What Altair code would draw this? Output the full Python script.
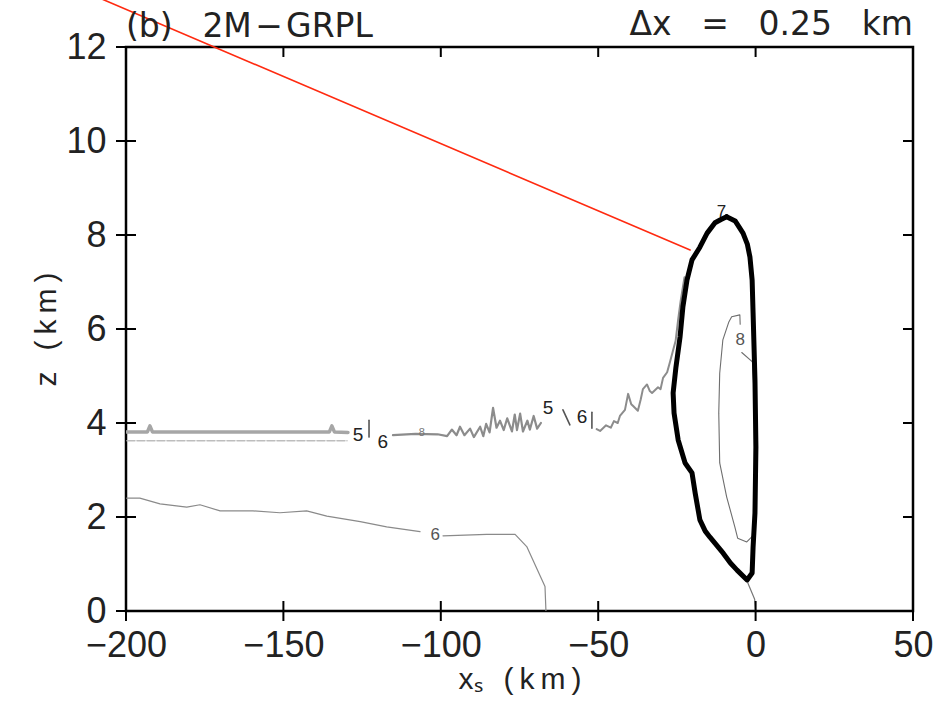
import altair as alt
import pandas as pd

# ---------------- data ----------------
x_ticks = [-200, -150, -100, -50, 0, 50]
y_ticks = [0, 2, 4, 6, 8, 10, 12]

# thick black contour (label 7)
loop7_x = [-9.2, -6.5, -4.0, -2.6, -1.8, -1.1, -0.8, -0.2, 0.1, -0.2, -0.8, -1.1, -2.7, -5.9,
           -8.0, -10.3, -14.5, -16.0, -17.7, -19.2, -20.2, -22.4, -24.6, -25.9, -26.2, -25.3,
           -24.0, -23.1, -21.8, -20.2, -17.7, -15.4, -12.9, -11.0, -9.2]
loop7_y = [8.39, 8.30, 8.04, 7.80, 7.53, 7.04, 6.34, 4.91, 3.49, 2.09, 1.36, 0.81, 0.66, 0.87,
           1.02, 1.23, 1.57, 1.70, 1.94, 2.51, 2.94, 3.15, 3.64, 4.21, 4.64, 5.19,
           5.83, 6.47, 7.04, 7.47, 7.74, 8.04, 8.26, 8.33, 8.39]

# inner thin contour (label 8)
inner8_x = [-4.4, -1.0, -0.4, -0.4, -0.9, -2.8, -5.7, -6.6, -9.2, -11.4, -11.7, -11.4,
            -10.4, -8.5, -7.6, -5.0, -4.9]
inner8_y = [5.50, 5.30, 4.50, 2.20, 1.60, 1.47, 1.55, 1.79, 2.43, 3.15, 4.21, 5.06,
            5.77, 6.15, 6.26, 6.30, 6.10]

# lower contour (label 6), split around its label
low6a_x = [-199.8, -195.6, -189.2, -180.7, -176.5, -170.1, -159.7, -151.1, -142.6, -136.2,
           -125.6, -117.2, -106.6]
low6a_y = [2.40, 2.40, 2.28, 2.21, 2.26, 2.13, 2.13, 2.09, 2.13, 2.02, 1.90, 1.79, 1.69]
low6b_x = [-99.3, -85.4, -76.4, -72.7, -66.9, -66.6]
low6b_y = [1.60, 1.63, 1.63, 1.37, 0.52, 0.0]

# melting-level contours on the left
meltA_x = [-199.7, -193.2, -192.4, -191.6, -135.4, -134.6, -133.8, -129.5]
meltA_y = [3.81, 3.81, 3.94, 3.81, 3.81, 3.94, 3.81, 3.80]
meltB_x = [-199.7, -129.8]
meltB_y = [3.62, 3.62]

# jagged contour, middle part
jag1_x = [-115.2, -108.0, -101.0, -98.0, -96.5, -95.0, -93.9, -92.5, -90.7, -89.5, -87.5,
          -86.5, -85.6, -84.5, -83.4, -82.3, -81.2, -80.0, -78.9, -77.4, -76.5, -75.8, -74.8,
          -73.9, -72.5, -71.7, -70.5, -69.4, -68.2]
jag1_y = [3.74, 3.77, 3.76, 3.72, 3.86, 3.74, 3.92, 3.74, 3.88, 3.70, 3.92,
          3.72, 3.98, 3.80, 4.32, 3.90, 4.05, 3.85, 4.10, 3.82, 4.18, 3.85, 4.20,
          3.82, 4.05, 3.86, 4.15, 3.88, 4.00]

# jagged contour rising to the cell
jag2_x = [-50.5, -49.4, -47.5, -46.0, -45.0, -43.8, -43.1, -41.5, -40.5, -39.5, -38.9, -37.4,
          -36.5, -35.8, -34.5, -33.6, -32.9, -31.0, -30.2, -29.4, -28.1, -27.2, -26.4, -25.4,
          -24.6, -23.8, -22.6]
jag2_y = [3.87, 3.83, 3.95, 3.90, 4.04, 4.00, 4.15, 4.28, 4.62, 4.40, 4.36, 4.26,
          4.50, 4.72, 4.82, 4.68, 4.64, 4.76, 4.72, 4.96, 5.08, 5.30, 5.50, 5.75,
          6.20, 6.60, 7.10]

# short contour pieces near the labels
piece_x = [-122.8, -122.8, -61.2, -59.0, -52.0, -52.0]
piece_y = [4.06, 3.70, 4.28, 3.96, 4.23, 3.89]
piece_seg = [0, 0, 1, 1, 2, 2]

# stem from the cell bottom to the surface
stem_x = [-2.5, -0.3, 0.0]
stem_y = [0.60, 0.25, 0.0]

# red straight line
red_x = [-222.0, -20.8]
red_y = [13.43, 7.68]

# contour labels
lab_x = [-10.8, -4.9, -101.8, -126.3, -118.4, -65.9, -55.1, -106.0]
lab_y = [8.50, 5.77, 1.62, 3.74, 3.60, 4.32, 4.13, 3.79]
lab_t = ["7", "8", "6", "5", "6", "5", "6", "8"]
lab_s = [17, 17, 17, 19, 19, 19, 19, 11]
lab_c = ["#222222", "#555555", "#555555", "#222222", "#222222", "#222222", "#222222", "#777777"]

title_left = "(b)\u2002\u2009\u20092M\u200a\u2212\u200aGRPL"
title_right = "\u0394x\u2002\u2009\u2009=\u2002\u2009\u20090.25\u2002\u2009\u2009km"

# ---------------- chart ----------------
W, H = 787, 564
FONT = "Liberation Sans"
TFONT = "DejaVu Sans"
xs = alt.Scale(domain=[-200, 50], nice=False, zero=False)
ys = alt.Scale(domain=[0, 12], nice=False, zero=False)

xaxis = alt.Axis(values=x_ticks, ticks=False, domain=False, grid=False, labelFlush=False,
                 labelOverlap=False, labelFont=FONT, labelFontSize=36, labelColor="#222",
                 labelPadding=17, titleFont=FONT, titleFontSize=30, titleFontWeight="normal",
                 titleColor="#222", titlePadding=1,
                 title="x\u209b\u2002\u2009(\u2009k\u2009m\u2009)")
yaxis = alt.Axis(values=y_ticks, ticks=False, domain=False, grid=False, labelFlush=False,
                 labelOverlap=False, labelFont=FONT, labelFontSize=36, labelColor="#222",
                 labelPadding=20, titleFont=FONT, titleFontSize=30, titleFontWeight="normal",
                 titleColor="#222", titlePadding=4,
                 title="z\u2002\u2009(\u2009k\u2009m\u2009)")

X = alt.X("x:Q", scale=xs, axis=xaxis)
Y = alt.Y("y:Q", scale=ys, axis=yaxis)


def df(xv, yv, seg=None):
    return pd.DataFrame({"x": xv, "y": yv,
                         "seg": seg if seg is not None else [0] * len(xv),
                         "i": list(range(len(xv)))})


def line(d, color, width, dash=None, clip=True):
    kw = dict(color=color, strokeWidth=width, clip=clip, strokeJoin="round", strokeCap="round")
    if dash:
        kw["strokeDash"] = dash
    return alt.Chart(d).mark_line(**kw).encode(x=X, y=Y, detail="seg:N", order="i:Q")


layers = [
    line(df(meltB_x, meltB_y), "#bdbdbd", 1.5, dash=[8, 2]),
    line(df(meltA_x, meltA_y), "#a6a6a6", 3.5),
    line(df(low6a_x, low6a_y), "#8a8a8a", 1.2),
    line(df(low6b_x, low6b_y), "#8a8a8a", 1.2),
    line(df(jag1_x, jag1_y), "#8c8c8c", 2.2),
    line(df(jag2_x, jag2_y), "#8c8c8c", 2.0),
    line(df(piece_x, piece_y, piece_seg), "#555555", 1.6),
    line(df(stem_x, stem_y), "#777777", 1.2),
    line(df(inner8_x, inner8_y), "#6e6e6e", 1.1),
    line(df(loop7_x, loop7_y), "#000000", 5.0),
    line(df(red_x, red_y), "#ff2a10", 1.6, clip=False),
]

labels = pd.DataFrame({"x": lab_x, "y": lab_y, "t": lab_t, "s": lab_s, "c": lab_c})
layers.append(
    alt.Chart(labels).mark_text(font=FONT, baseline="middle", align="center").encode(
        x=X, y=Y, text="t:N", size=alt.Size("s:Q", scale=None), color=alt.Color("c:N", scale=None))
)

# tick marks crossing / inside the frame
xt = pd.DataFrame({"x": x_ticks})
yt = pd.DataFrame({"y": y_ticks})
layers += [
    alt.Chart(xt).mark_rule(color="black", strokeWidth=2, clip=False).encode(
        x=X, y=alt.value(H - 10), y2=alt.value(H + 10)),
    alt.Chart(xt).mark_rule(color="black", strokeWidth=2, clip=False).encode(
        x=X, y=alt.value(0), y2=alt.value(10)),
    alt.Chart(yt).mark_rule(color="black", strokeWidth=2, clip=False).encode(
        y=Y, x=alt.value(-10), x2=alt.value(10)),
    alt.Chart(yt).mark_rule(color="black", strokeWidth=2, clip=False).encode(
        y=Y, x=alt.value(W - 10), x2=alt.value(W)),
]

tdf = pd.DataFrame({"a": [title_left], "b": [title_right]})
layers += [
    alt.Chart(tdf).mark_text(font=TFONT, fontSize=33, align="left", baseline="alphabetic",
                             color="#222").encode(x=alt.value(0), y=alt.value(-10), text="a:N"),
    alt.Chart(tdf).mark_text(font=TFONT, fontSize=33, align="right", baseline="alphabetic",
                             color="#222").encode(x=alt.value(W), y=alt.value(-12), text="b:N"),
]

chart = alt.layer(*layers).properties(
    width=W, height=H,
    padding={"left": 126, "top": 47, "right": 38, "bottom": 94},
    autosize=alt.AutoSizeParams(type="none"),
    background="white",
).configure_view(stroke="black", strokeWidth=2.5)

chart.save("out.html", embed_options={"renderer": "svg", "actions": False})
